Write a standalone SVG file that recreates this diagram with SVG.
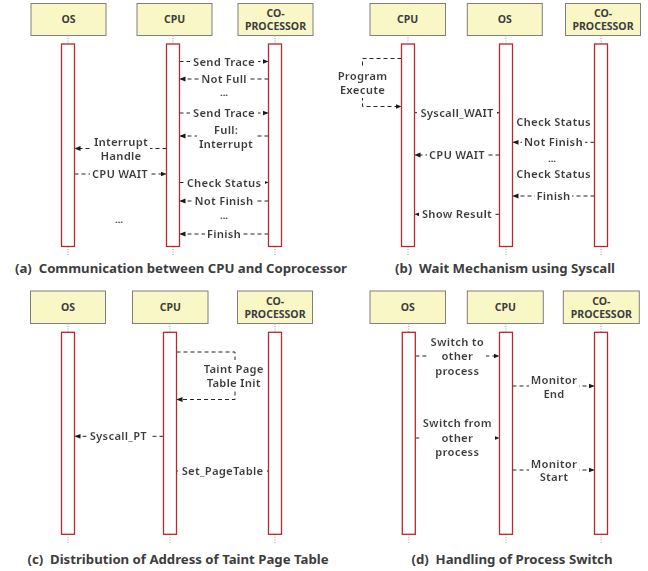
<svg xmlns="http://www.w3.org/2000/svg" width="648" height="571" viewBox="0 0 648 571">
  <style>
    .box { fill: #f9f7c6; stroke: #7f7f7f; stroke-width: 1; }
    .bar { fill: #ffffff; stroke: #b8282c; stroke-width: 1.3; }
    .life { stroke: #9a9a9a; stroke-width: 1; stroke-dasharray: 1 1.5; fill: none; }
    .msg { stroke: #262626; stroke-width: 1; stroke-dasharray: 4 3; fill: none; marker-end: url(#arr); }
    text { font-family: "Noto Sans", "DejaVu Sans", "Liberation Sans", sans-serif; font-weight: bold; fill: #3d3d3d; }
    .hd { font-size: 10.5px; text-anchor: middle; }
    .lb { font-size: 11.2px; letter-spacing: 0.2px; text-anchor: middle; filter: url(#knock); }
    .dots { font-size: 9.5px; text-anchor: middle; }
    .cap { font-size: 13.2px; text-anchor: middle; white-space: pre; }
  </style>
  <defs>
    <marker id="arr" viewBox="0 0 6 6" refX="6" refY="3" markerWidth="6" markerHeight="6" markerUnits="userSpaceOnUse" orient="auto">
      <path d="M0,0.6 L6,3 L0,5.4 z" fill="#1a1a1a"/>
    </marker>
    <!-- white backing behind message labels so the dashed line breaks around them -->
    <filter id="knock" x="-0.035" y="-0.02" width="1.07" height="1.04">
      <feFlood flood-color="#ffffff"/>
      <feComposite in="SourceGraphic" operator="over"/>
    </filter>
  </defs>

  <!-- (a) Communication between CPU and Coprocessor -->
  <g id="a-msgs">
    <path class="msg" d="M179.5 61.5H268.5"/>
    <path class="msg" d="M268.5 79H179.5"/>
    <path class="msg" d="M179.5 113H268.5"/>
    <path class="msg" d="M268.5 136H179.5"/>
    <path class="msg" d="M166.5 148.5H74.5"/>
    <path class="msg" d="M74.5 174H166.5"/>
    <path class="msg" d="M179.5 182.5H268.5"/>
    <path class="msg" d="M268.5 201H179.5"/>
    <path class="msg" d="M268.5 234H179.5"/>
  </g>
  <g id="a-labels">
    <text class="lb" x="224" y="65.5">Send Trace</text>
    <text class="lb" x="224" y="83">Not Full</text>
    <text class="dots" x="224" y="96">...</text>
    <text class="lb" x="224" y="117">Send Trace</text>
    <text class="lb" x="226" y="133.5"><tspan x="226">Full:</tspan><tspan x="226" dy="14">Interrupt</tspan></text>
    <text class="lb" x="121" y="146"><tspan x="121">Interrupt</tspan><tspan x="121" dy="13.5">Handle</tspan></text>
    <text class="lb" x="120" y="178">CPU WAIT</text>
    <text class="lb" x="224" y="186.5">Check Status</text>
    <text class="lb" x="224" y="204.5">Not Finish</text>
    <text class="dots" x="224" y="218.5">...</text>
    <text class="lb" x="224" y="238">Finish</text>
    <text class="dots" x="119" y="223">...</text>
  </g>
  <g id="a-os">
    <rect class="box" x="31" y="3.5" width="75" height="32"/>
    <text class="hd" x="68.5" y="23">OS</text>
    <path class="life" d="M68 35.5V44M68 246.5V256"/>
    <rect class="bar" x="61.5" y="44" width="13" height="202.5"/>
  </g>
  <g id="a-cpu">
    <rect class="box" x="137" y="3.5" width="75" height="32"/>
    <text class="hd" x="174.5" y="23">CPU</text>
    <path class="life" d="M173 35.5V44M173 246.5V256"/>
    <rect class="bar" x="166.5" y="44" width="13" height="202.5"/>
  </g>
  <g id="a-cop">
    <rect class="box" x="238" y="3.5" width="75" height="32"/>
    <text class="hd" x="275.5" y="17">CO-</text>
    <text class="hd" x="275.5" y="30">PROCESSOR</text>
    <path class="life" d="M275 35.5V44M275 246.5V256"/>
    <rect class="bar" x="268.5" y="44" width="13" height="202.5"/>
  </g>
  <text class="cap" x="181" y="273" xml:space="preserve">(a)  Communication between CPU and Coprocessor</text>

  <!-- (b) Wait Mechanism using Syscall -->
  <g id="b-msgs">
    <path class="msg" d="M401.5 58.5H362.5V106.5H401.5"/>
    <path class="msg" d="M414.5 112.7H499.5"/>
    <path class="msg" d="M512.5 121.7H594.5"/>
    <path class="msg" d="M594.5 142.3H512.5"/>
    <path class="msg" d="M499.5 155H414.5"/>
    <path class="msg" d="M512.5 174.3H594.5"/>
    <path class="msg" d="M594.5 196H512.5"/>
    <path class="msg" d="M499.5 214.3H414.5"/>
  </g>
  <g id="b-labels">
    <text class="lb" x="362.5" y="80"><tspan x="362.5">Program</tspan><tspan x="362.5" dy="14">Execute</tspan></text>
    <text class="lb" x="457" y="116.7">Syscall_WAIT</text>
    <text class="lb" x="553.5" y="125.7">Check Status</text>
    <text class="lb" x="553.5" y="146.3">Not Finish</text>
    <text class="lb" x="457" y="159">CPU WAIT</text>
    <text class="dots" x="552" y="161.5">...</text>
    <text class="lb" x="553.5" y="178.3">Check Status</text>
    <text class="lb" x="553.5" y="200">Finish</text>
    <text class="lb" x="457" y="218.3">Show Result</text>
  </g>
  <g id="b-cpu">
    <rect class="box" x="370" y="3.5" width="75.5" height="32"/>
    <text class="hd" x="407.7" y="23">CPU</text>
    <path class="life" d="M408 35.5V44M408 246.5V256"/>
    <rect class="bar" x="401.5" y="44" width="13" height="202.5"/>
  </g>
  <g id="b-os">
    <rect class="box" x="467.3" y="3.5" width="75" height="32"/>
    <text class="hd" x="504.8" y="23">OS</text>
    <path class="life" d="M506 35.5V44M506 246.5V256"/>
    <rect class="bar" x="499.5" y="44" width="13" height="202.5"/>
  </g>
  <g id="b-cop">
    <rect class="box" x="565.5" y="3.5" width="75" height="32"/>
    <text class="hd" x="603" y="17">CO-</text>
    <text class="hd" x="603" y="30">PROCESSOR</text>
    <path class="life" d="M601 35.5V44M601 246.5V256"/>
    <rect class="bar" x="594.5" y="44" width="13" height="202.5"/>
  </g>
  <text class="cap" x="505" y="273" xml:space="preserve">(b)  Wait Mechanism using Syscall</text>

  <!-- (c) Distribution of Address of Taint Page Table -->
  <g id="c-msgs">
    <path class="msg" d="M176.5 352H235V399.5H176.5"/>
    <path class="msg" d="M163.5 436.3H74.5"/>
    <path class="msg" d="M176.5 471H268.5"/>
  </g>
  <g id="c-labels">
    <text class="lb" x="233.7" y="373"><tspan x="233.7">Taint Page</tspan><tspan x="233.7" dy="13.7">Table Init</tspan></text>
    <text class="lb" x="118.3" y="440.3">Syscall_PT</text>
    <text class="lb" x="222.5" y="475">Set_PageTable</text>
  </g>
  <g id="c-os">
    <rect class="box" x="30.5" y="291" width="75" height="32.5"/>
    <text class="hd" x="68" y="311">OS</text>
    <path class="life" d="M68 323.5V332.3M68 534.3V543"/>
    <rect class="bar" x="61.5" y="332.3" width="13" height="202"/>
  </g>
  <g id="c-cpu">
    <rect class="box" x="132.5" y="291" width="75.5" height="32.5"/>
    <text class="hd" x="170.3" y="311">CPU</text>
    <path class="life" d="M170 323.5V332.3M170 534.3V543"/>
    <rect class="bar" x="163.5" y="332.3" width="13" height="202"/>
  </g>
  <g id="c-cop">
    <rect class="box" x="237.5" y="291" width="75" height="32.5"/>
    <text class="hd" x="275" y="305">CO-</text>
    <text class="hd" x="275" y="318">PROCESSOR</text>
    <path class="life" d="M275 323.5V332.3M275 534.3V543"/>
    <rect class="bar" x="268.5" y="332.3" width="13" height="202"/>
  </g>
  <text class="cap" x="178" y="564" xml:space="preserve">(c)  Distribution of Address of Taint Page Table</text>

  <!-- (d) Handling of Process Switch -->
  <g id="d-msgs">
    <path class="msg" d="M415.3 356H499.5"/>
    <path class="msg" d="M512.5 386H594.5"/>
    <path class="msg" d="M415.3 438H499.5"/>
    <path class="msg" d="M512.5 470H594.5"/>
  </g>
  <g id="d-labels">
    <text class="lb" x="457.3" y="346"><tspan x="457.3">Switch to</tspan><tspan x="457.3" dy="14.3">other</tspan><tspan x="457.3" dy="14.3">process</tspan></text>
    <text class="lb" x="554" y="384.3"><tspan x="554">Monitor</tspan><tspan x="554" dy="13.5">End</tspan></text>
    <text class="lb" x="457.3" y="427.3"><tspan x="457.3">Switch from</tspan><tspan x="457.3" dy="15">other</tspan><tspan x="457.3" dy="14">process</tspan></text>
    <text class="lb" x="554" y="467.8"><tspan x="554">Monitor</tspan><tspan x="554" dy="13.5">Start</tspan></text>
  </g>
  <g id="d-os">
    <rect class="box" x="370" y="291" width="75.5" height="32.5"/>
    <text class="hd" x="407.8" y="311">OS</text>
    <path class="life" d="M408.8 323.5V332.3M408.8 534.3V543"/>
    <rect class="bar" x="402.3" y="332.3" width="13" height="202"/>
  </g>
  <g id="d-cpu">
    <rect class="box" x="467.3" y="291" width="76" height="32.5"/>
    <text class="hd" x="505.3" y="311">CPU</text>
    <path class="life" d="M506 323.5V332.3M506 534.3V543"/>
    <rect class="bar" x="499.5" y="332.3" width="13" height="202"/>
  </g>
  <g id="d-cop">
    <rect class="box" x="563.3" y="291" width="76" height="32.5"/>
    <text class="hd" x="601.3" y="305">CO-</text>
    <text class="hd" x="601.3" y="318">PROCESSOR</text>
    <path class="life" d="M601 323.5V332.3M601 534.3V543"/>
    <rect class="bar" x="594.5" y="332.3" width="13" height="202"/>
  </g>
  <text class="cap" x="512" y="564" xml:space="preserve">(d)  Handling of Process Switch</text>
</svg>
